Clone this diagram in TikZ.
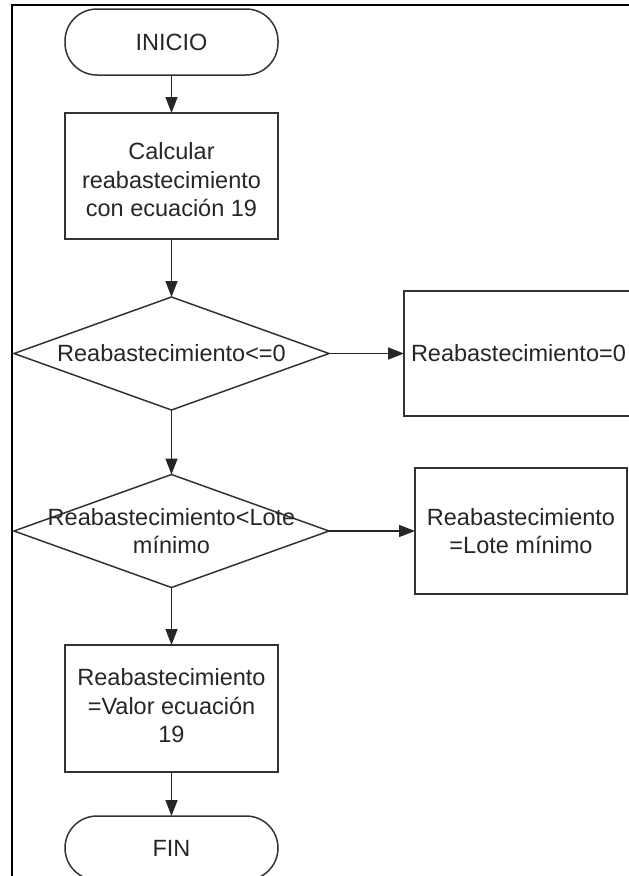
\documentclass[tikz,border=0pt]{standalone}
\usepackage{fontspec}
\setmainfont{Liberation Sans}
\usetikzlibrary{shapes.geometric,arrows.meta}
\begin{document}
\begin{tikzpicture}[x=1pt,y=-1pt,
  every node/.style={inner sep=0pt, outer sep=0pt},
  shp/.style={draw=black!80, line width=1.5pt},
  procbox/.style={shp, rectangle, minimum width=213pt, minimum height=126pt},
  termbox/.style={shp, rectangle, rounded corners=32pt, minimum width=213pt, minimum height=66pt},
  decbox/.style={shp, diamond, minimum width=315pt, minimum height=113pt},
  lbl/.style={text=black!85, font=\fontsize{23.5}{28.5}\selectfont, align=center},
  flow/.style={draw=black!85, line width=1.5pt, -{Triangle[length=16pt,width=12pt]}}
]
\useasboundingbox (0,0) rectangle (629,876);
\clip (0,0) rectangle (629,876);
\fill[white] (0,0) rectangle (629,876);
% frame
\draw[line width=2.8pt, black] (12,900) -- (12,5) -- (700,5);

% nodes
\node[termbox] (inicio) at (171.5,42) {};
\node[lbl] (inicioT) at (inicio.center) {INICIO};

\node[procbox] (calc) at (171.5,176) {};
\node[lbl] (calcT) at (171.5,180) {Calcular\\reabastecimiento\\con ecuación 19};

\node[decbox] (d1) at (171.5,353.5) {};
\node[lbl] (d1T) at (d1.center) {Reabastecimiento<=0};

\node[shp, rectangle, minimum width=260pt, minimum height=125pt, anchor=west] (b0) at (404,353.5) {};
\node[lbl, anchor=west] (b0T) at (411,353.5) {Reabastecimiento=0};

\node[decbox] (d2) at (171.5,531) {};
\node[lbl] (d2T) at (171.5,531) {Reabastecimiento<Lote\\mínimo};

\node[procbox, minimum width=212pt] (b2) at (521,531) {};
\node[lbl] (b2T) at (b2.center) {Reabastecimiento\\=Lote mínimo};

\node[procbox, minimum height=127pt] (b3) at (171.5,708.5) {};
\node[lbl] (b3T) at (171.5,706) {Reabastecimiento\\=Valor ecuación\\19};

\node[termbox, minimum height=64pt] (fin) at (171.5,848) {};
\node[lbl] (finT) at (fin.center) {FIN};

% connectors
\draw[flow] (inicio.south) -- (calc.north);
\draw[flow] (calc.south) -- (d1.north);
\draw[flow] (d1.east) -- (b0.west);
\draw[flow] (d1.south) -- (d2.north);
\draw[flow] (d2.east) -- (b2.west);
\draw[flow] (d2.south) -- (b3.north);
\draw[flow] (b3.south) -- (fin.north);
\end{tikzpicture}
\end{document}
